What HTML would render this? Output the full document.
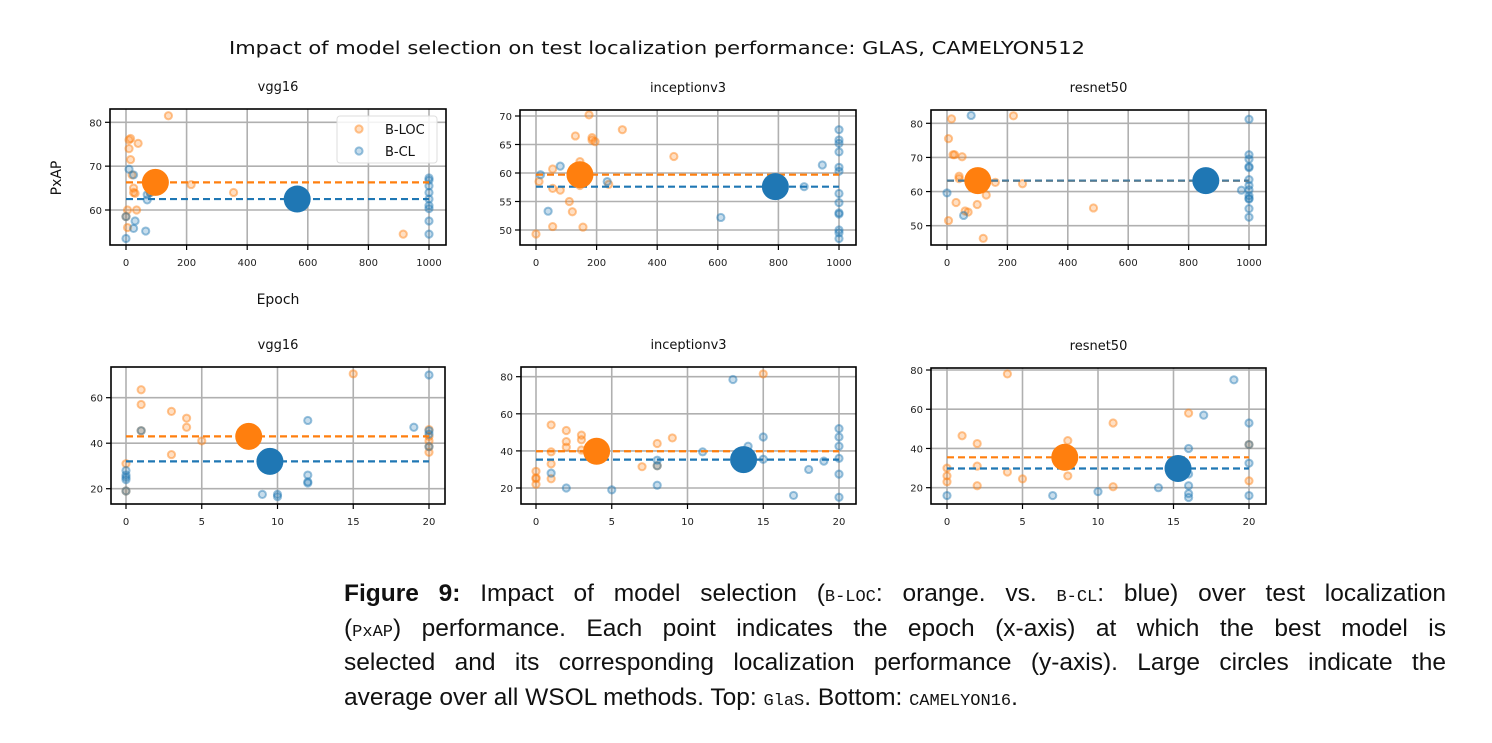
<!DOCTYPE html>
<html><head><meta charset="utf-8">
<style>
body{margin:0;background:#fff;width:1492px;height:743px;overflow:hidden;font-family:"Liberation Sans",sans-serif;}
#cap{position:absolute;left:344px;top:577px;width:1102px;font-size:24.5px;color:#111;}
#cap div{white-space:nowrap;text-align:justify;text-align-last:justify;height:34.7px;line-height:34.7px;overflow:visible;}
#cap div.last{text-align-last:left;}
.mono{font-family:"Liberation Mono",monospace;font-size:17px;line-height:0;}
</style></head>
<body>
<svg id="fig" width="1492" height="570" style="position:absolute;left:0;top:0" font-family="DejaVu Sans, sans-serif"></svg>
<div id="cap">
<div><b>Figure 9:</b> Impact of model selection (<span class="mono">B-LOC</span>: orange. vs. <span class="mono">B-CL</span>: blue) over test localization</div>
<div>(<span class="mono">PxAP</span>) performance. Each point indicates the epoch (x-axis) at which the best model is</div>
<div>selected and its corresponding localization performance (y-axis). Large circles indicate the</div>
<div class="last">average over all WSOL methods. Top: <span class="mono">GlaS</span>. Bottom: <span class="mono">CAMELYON16</span>.</div>
</div>
<script>
// ---- data ----
const titles=["vgg16","inceptionv3","resnet50","vgg16","inceptionv3","resnet50"];
const xTicksTop=[0,200,400,600,800,1000];
const xTicksBot=[0,5,10,15,20];
const yTicks=[[60,70,80],[50,55,60,65,70],[50,60,70,80],[20,40,60],[20,40,60,80],[20,40,60,80]];
const orX=[
[0,5,5,10,15,10,15,20,25,25,30,40,35,140,215,355,915,80],
[0,10,55,55,55,80,110,120,130,145,155,145,175,185,185,195,240,285,455],
[5,15,20,25,50,40,40,30,5,60,70,100,130,160,250,220,120,485],
[0,1,1,1,3,3,4,4,5,15,20,20,20,20,20,0],
[0,0,0,0,1,1,1,1,2,2,2,3,3,3,7,8,9,15,8],
[0,0,0,1,2,2,2,4,4,5,8,8,11,11,16,20,20]];
const orY=[
[58.5,56,60,76,76.3,74,71.5,68,64,65,63.8,75.2,60,81.5,65.8,64,54.5,64],
[49.3,58.5,60.7,57.3,50.6,57,55,53.2,66.5,62,50.5,57.8,70.2,66.2,65.8,65.5,58,67.6,62.9],
[75.5,81.3,70.8,70.8,70.2,64.5,63.8,56.8,51.5,54.3,54,56.2,59,62.7,62.3,82.2,46.3,55.2],
[31,63.5,57,45.5,54,35,51,47,41,70.5,46,43,41,38.5,36,19],
[29,25.5,25,22,54,39.5,33,25,51,45,42,48.5,46,40.5,31.5,44,47,81.5,32],
[30,26,23,46.5,42.5,31,21,78,28,24.5,44,26,53,20.5,58,23.5,42]];
const blX=[
[0,0,10,25,30,25,65,70,70,80,1000,1000,1000,1000,1000,1000,1000,1000,1000],
[15,40,80,235,610,885,945,1000,1000,1000,1000,1000,1000,1000,1000,1000,1000,1000,1000,1000],
[0,80,55,975,1000,1000,1000,1000,1000,1000,1000,1000,1000,1000,1000,1000,1000],
[0,0,0,0,0,1,9,10,10,12,12,12,12,19,20,20,20,20],
[1,2,5,8,8,8,11,13,14,15,15,17,18,19,20,20,20,20,20,20],
[0,7,10,14,16,16,16,16,16,17,19,20,20,20,20]];
const blY=[
[58.5,53.5,69.3,68,57.5,55.8,55.2,62.3,63.5,64,67.3,66.8,65.5,64,62.5,61,60.3,57.5,54.5],
[59.7,53.3,61.2,58.5,52.2,57.6,61.4,67.6,65.8,65.2,63.7,61,60.3,56.4,54.8,53,52.8,50,49.5,48.5],
[59.6,82.3,53,60.4,81.2,70.8,69.5,67.3,67,63.5,61.8,60.5,58.8,58,57.8,55,52.5],
[28,26,25,24,19,45.5,17.5,17.5,16.5,26,23,22.5,50,47,70,45.5,44,38.5],
[28,20,19,35,32,21.5,39.5,78.5,42.5,47.5,35.5,16,30,34.5,52,47.5,42.5,36,27.5,15],
[16,16,18,20,40,27,21,17,15,57,75,53,42,32.5,16]];
const meanOrange=[[97,66.3],[145,59.7],[102,63.2],[8.1,43],[4,39.8],[7.8,35.5]];
const meanBlue=[[565,62.5],[790,57.6],[857,63.2],[9.5,32],[13.7,35.3],[15.3,29.8]];
// ---- layout ----
const boxes=[
{l:110,r:446,t:109,b:245,xa:126,xb:429,x0:0,x1:1000,ya:122.3,yb:210,v0:80,v1:60},
{l:520,r:856,t:110,b:245,xa:536,xb:839,x0:0,x1:1000,ya:116,yb:230,v0:70,v1:50},
{l:931,r:1266,t:110,b:245,xa:947,xb:1249,x0:0,x1:1000,ya:123.3,yb:225.7,v0:80,v1:50},
{l:111,r:445,t:367,b:504,xa:126,xb:429,x0:0,x1:20,ya:397.7,yb:488.7,v0:60,v1:20},
{l:521,r:856,t:367,b:504,xa:536,xb:839,x0:0,x1:20,ya:376.7,yb:488,v0:80,v1:20},
{l:931,r:1266,t:368,b:504,xa:947,xb:1249,x0:0,x1:20,ya:370,yb:487.7,v0:80,v1:20}];
const OR="#ff7f0e",BL="#1f77b4";
const svg=document.getElementById('fig');
const NS="http://www.w3.org/2000/svg";
function mk(tag,attrs,parent){const e=document.createElementNS(NS,tag);for(const k in attrs)e.setAttribute(k,attrs[k]);(parent||svg).appendChild(e);return e;}
function txt(s,attrs,parent){const e=mk('text',attrs,parent);e.textContent=s;return e;}
const t0=txt("Impact of model selection on test localization performance: GLAS, CAMELYON512",{x:657,y:54,'font-size':17.5,'text-anchor':'middle',fill:'#111',textLength:856,lengthAdjust:'spacingAndGlyphs'});


boxes.forEach((B,i)=>{
  const g=mk('g',{});
  
  
  const X=v=>B.xa+(v-B.x0)*(B.xb-B.xa)/(B.x1-B.x0);
  const Y=v=>B.ya+(v-B.v0)*(B.yb-B.ya)/(B.v1-B.v0);
  const clipId='c'+i;
  const cp=mk('clipPath',{id:clipId},g);mk('rect',{x:B.l,y:B.t,width:B.r-B.l,height:B.b-B.t},cp);
  const xt=i<3?xTicksTop:xTicksBot;
  xt.forEach(v=>{mk('line',{x1:X(v),x2:X(v),y1:B.t,y2:B.b,stroke:'#b0b0b0','stroke-width':1.6},g);
    mk('line',{x1:X(v),x2:X(v),y1:B.b,y2:B.b+5,stroke:'#000','stroke-width':1.2},g);
    const tl=txt(String(v),{x:X(v),y:B.b+21,'font-size':10,'text-anchor':'middle',fill:'#222'},g);
    
    });
  yTicks[i].forEach(v=>{mk('line',{x1:B.l,x2:B.r,y1:Y(v),y2:Y(v),stroke:'#b0b0b0','stroke-width':1.6},g);
    mk('line',{x1:B.l-5,x2:B.l,y1:Y(v),y2:Y(v),stroke:'#000','stroke-width':1.2},g);
    const tl=txt(String(v),{x:B.l-8,y:Y(v)+4,'font-size':10,'text-anchor':'end',fill:'#222'},g);
    
    });
  const pg=mk('g',{'clip-path':'url(#'+clipId+')'},g);
  function pts(xs,ys,c,name){xs.forEach((x,k)=>{const p=mk('circle',{cx:X(x),cy:Y(ys[k]),r:3.6,fill:c,'fill-opacity':0.25,stroke:c,'stroke-opacity':0.45,'stroke-width':2},pg);
    
    });}
  pts(orX[i],orY[i],OR,'b-loc-point');
  pts(blX[i],blY[i],BL,'b-cl-point');
  const lo=mk('line',{x1:X(B.x0),x2:X(B.x1),y1:Y(meanOrange[i][1]),y2:Y(meanOrange[i][1]),stroke:OR,'stroke-width':2.2,'stroke-dasharray':'7,4'},pg);
  
  
  const lb=mk('line',{x1:X(B.x0),x2:X(B.x1),y1:Y(meanBlue[i][1]),y2:Y(meanBlue[i][1]),stroke:i==2?'#4a7d9e':BL,'stroke-width':2.2,'stroke-dasharray':'7,4'},pg);
  
  
  const mo=mk('circle',{cx:X(meanOrange[i][0]),cy:Y(meanOrange[i][1]),r:13.5,fill:OR},pg);
  
  
  const mb=mk('circle',{cx:X(meanBlue[i][0]),cy:Y(meanBlue[i][1]),r:13.5,fill:BL},pg);
  
  
  mk('rect',{x:B.l,y:B.t,width:B.r-B.l,height:B.b-B.t,fill:'none',stroke:'#000','stroke-width':1.6},g);
  const tt=txt(titles[i],{x:(B.l+B.r)/2,y:B.t-18,'font-size':13,'text-anchor':'middle',fill:'#111'},g);
  
  
});
const xl=txt("Epoch",{x:278,y:304,'font-size':14,'text-anchor':'middle',fill:'#111'});


const yl=txt("PxAP",{x:0,y:0,'font-size':14,'text-anchor':'middle',fill:'#111',transform:'translate(61,178) rotate(-90)'});


const lg=mk('g',{});


mk('rect',{x:337,y:116,width:100,height:47,rx:3,fill:'#fff','fill-opacity':0.85,stroke:'#ddd','stroke-width':1},lg);
mk('circle',{cx:359,cy:129,r:3.6,fill:OR,'fill-opacity':0.25,stroke:OR,'stroke-opacity':0.45,'stroke-width':2},lg);
mk('circle',{cx:359,cy:151,r:3.6,fill:BL,'fill-opacity':0.25,stroke:BL,'stroke-opacity':0.45,'stroke-width':2},lg);
const le1=txt("B-LOC",{x:385,y:134,'font-size':13,fill:'#111'},lg);


const le2=txt("B-CL",{x:385,y:156,'font-size':13,fill:'#111'},lg);


</script>
</body></html>
